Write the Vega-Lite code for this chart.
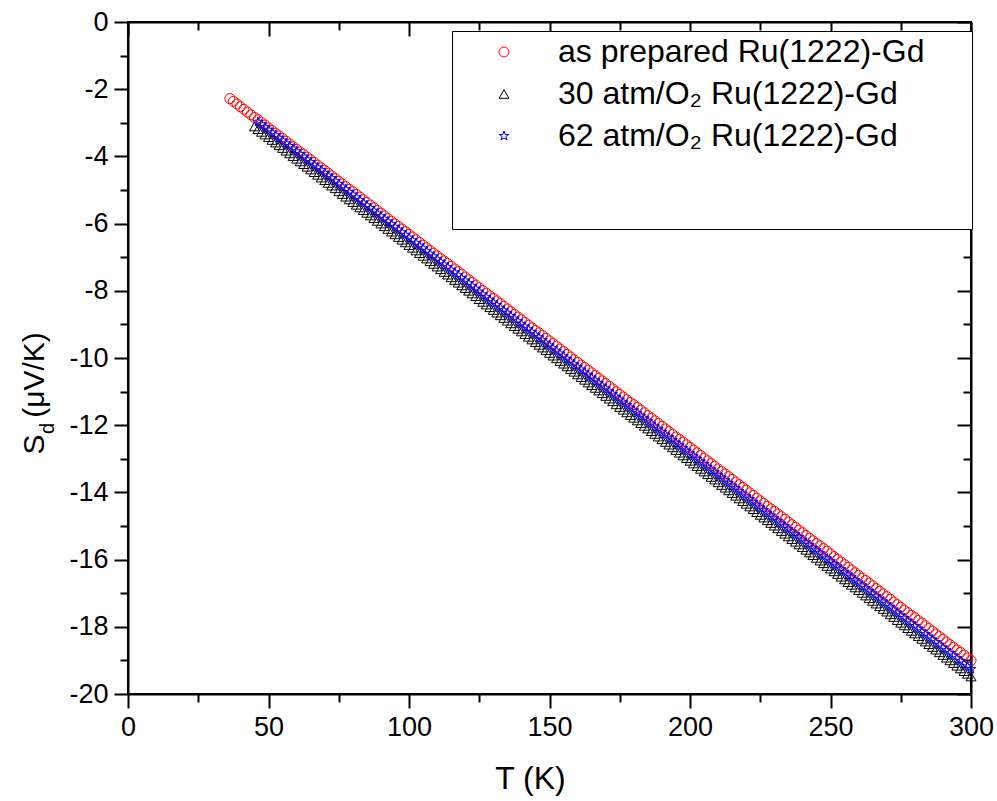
{
"$schema": "https://vega.github.io/schema/vega-lite/v6.json",
"autosize": {"type": "none"},
"padding": {"left": 128, "top": 22, "right": 26, "bottom": 107},
"width": 843,
"height": 672,
"background": "white",
"config": {"view": {"stroke": "black", "strokeWidth": 2}, "font": "Liberation Sans"},
"data": {"values": [
{"g":"a","T":36.25,"S":-2.28},{"g":"a","T":37.5,"S":-2.36},{"g":"a","T":38.75,"S":-2.44},{"g":"a","T":40,"S":-2.52},{"g":"a","T":41.25,"S":-2.60},{"g":"a","T":42.5,"S":-2.68},{"g":"a","T":43.75,"S":-2.76},{"g":"a","T":45,"S":-2.84},{"g":"a","T":46.25,"S":-2.91},{"g":"a","T":47.5,"S":-2.99},{"g":"a","T":48.75,"S":-3.07},{"g":"a","T":50,"S":-3.15},{"g":"a","T":51.25,"S":-3.23},{"g":"a","T":52.5,"S":-3.31},{"g":"a","T":53.75,"S":-3.39},{"g":"a","T":55,"S":-3.47},{"g":"a","T":56.25,"S":-3.55},{"g":"a","T":57.5,"S":-3.63},{"g":"a","T":58.75,"S":-3.71},{"g":"a","T":60,"S":-3.79},{"g":"a","T":61.25,"S":-3.87},{"g":"a","T":62.5,"S":-3.94},{"g":"a","T":63.75,"S":-4.02},{"g":"a","T":65,"S":-4.10},{"g":"a","T":66.25,"S":-4.18},{"g":"a","T":67.5,"S":-4.26},{"g":"a","T":68.75,"S":-4.34},{"g":"a","T":70,"S":-4.42},{"g":"a","T":71.25,"S":-4.50},{"g":"a","T":72.5,"S":-4.58},{"g":"a","T":73.75,"S":-4.66},{"g":"a","T":75,"S":-4.74},{"g":"a","T":76.25,"S":-4.82},{"g":"a","T":77.5,"S":-4.90},{"g":"a","T":78.75,"S":-4.98},{"g":"a","T":80,"S":-5.05},{"g":"a","T":81.25,"S":-5.13},{"g":"a","T":82.5,"S":-5.21},{"g":"a","T":83.75,"S":-5.29},{"g":"a","T":85,"S":-5.37},{"g":"a","T":86.25,"S":-5.45},{"g":"a","T":87.5,"S":-5.53},{"g":"a","T":88.75,"S":-5.61},{"g":"a","T":90,"S":-5.69},{"g":"a","T":91.25,"S":-5.77},{"g":"a","T":92.5,"S":-5.85},{"g":"a","T":93.75,"S":-5.93},{"g":"a","T":95,"S":-6.01},{"g":"a","T":96.25,"S":-6.08},{"g":"a","T":97.5,"S":-6.16},{"g":"a","T":98.75,"S":-6.24},{"g":"a","T":100,"S":-6.32},{"g":"a","T":101.25,"S":-6.40},{"g":"a","T":102.5,"S":-6.48},{"g":"a","T":103.75,"S":-6.56},{"g":"a","T":105,"S":-6.64},{"g":"a","T":106.25,"S":-6.72},{"g":"a","T":107.5,"S":-6.80},{"g":"a","T":108.75,"S":-6.88},{"g":"a","T":110,"S":-6.96},{"g":"a","T":111.25,"S":-7.04},{"g":"a","T":112.5,"S":-7.11},{"g":"a","T":113.75,"S":-7.19},{"g":"a","T":115,"S":-7.27},{"g":"a","T":116.25,"S":-7.35},{"g":"a","T":117.5,"S":-7.43},{"g":"a","T":118.75,"S":-7.51},{"g":"a","T":120,"S":-7.59},{"g":"a","T":121.25,"S":-7.67},{"g":"a","T":122.5,"S":-7.75},{"g":"a","T":123.75,"S":-7.83},{"g":"a","T":125,"S":-7.91},{"g":"a","T":126.25,"S":-7.99},{"g":"a","T":127.5,"S":-8.07},{"g":"a","T":128.75,"S":-8.15},{"g":"a","T":130,"S":-8.22},{"g":"a","T":131.25,"S":-8.30},{"g":"a","T":132.5,"S":-8.38},{"g":"a","T":133.75,"S":-8.46},{"g":"a","T":135,"S":-8.54},{"g":"a","T":136.25,"S":-8.62},{"g":"a","T":137.5,"S":-8.70},{"g":"a","T":138.75,"S":-8.78},{"g":"a","T":140,"S":-8.86},{"g":"a","T":141.25,"S":-8.94},{"g":"a","T":142.5,"S":-9.02},{"g":"a","T":143.75,"S":-9.10},{"g":"a","T":145,"S":-9.18},{"g":"a","T":146.25,"S":-9.25},{"g":"a","T":147.5,"S":-9.33},{"g":"a","T":148.75,"S":-9.41},{"g":"a","T":150,"S":-9.49},{"g":"a","T":151.25,"S":-9.57},{"g":"a","T":152.5,"S":-9.65},{"g":"a","T":153.75,"S":-9.73},{"g":"a","T":155,"S":-9.81},{"g":"a","T":156.25,"S":-9.89},{"g":"a","T":157.5,"S":-9.97},{"g":"a","T":158.75,"S":-10.05},{"g":"a","T":160,"S":-10.13},{"g":"a","T":161.25,"S":-10.21},{"g":"a","T":162.5,"S":-10.28},{"g":"a","T":163.75,"S":-10.36},{"g":"a","T":165,"S":-10.44},{"g":"a","T":166.25,"S":-10.52},{"g":"a","T":167.5,"S":-10.60},{"g":"a","T":168.75,"S":-10.68},{"g":"a","T":170,"S":-10.76},{"g":"a","T":171.25,"S":-10.84},{"g":"a","T":172.5,"S":-10.92},{"g":"a","T":173.75,"S":-11.00},{"g":"a","T":175,"S":-11.08},{"g":"a","T":176.25,"S":-11.16},{"g":"a","T":177.5,"S":-11.24},{"g":"a","T":178.75,"S":-11.32},{"g":"a","T":180,"S":-11.39},{"g":"a","T":181.25,"S":-11.47},{"g":"a","T":182.5,"S":-11.55},{"g":"a","T":183.75,"S":-11.63},{"g":"a","T":185,"S":-11.71},{"g":"a","T":186.25,"S":-11.79},{"g":"a","T":187.5,"S":-11.87},{"g":"a","T":188.75,"S":-11.95},{"g":"a","T":190,"S":-12.03},{"g":"a","T":191.25,"S":-12.11},{"g":"a","T":192.5,"S":-12.19},{"g":"a","T":193.75,"S":-12.27},{"g":"a","T":195,"S":-12.35},{"g":"a","T":196.25,"S":-12.42},{"g":"a","T":197.5,"S":-12.50},{"g":"a","T":198.75,"S":-12.58},{"g":"a","T":200,"S":-12.66},{"g":"a","T":201.25,"S":-12.74},{"g":"a","T":202.5,"S":-12.82},{"g":"a","T":203.75,"S":-12.90},{"g":"a","T":205,"S":-12.98},{"g":"a","T":206.25,"S":-13.06},{"g":"a","T":207.5,"S":-13.14},{"g":"a","T":208.75,"S":-13.22},{"g":"a","T":210,"S":-13.30},{"g":"a","T":211.25,"S":-13.38},{"g":"a","T":212.5,"S":-13.45},{"g":"a","T":213.75,"S":-13.53},{"g":"a","T":215,"S":-13.61},{"g":"a","T":216.25,"S":-13.69},{"g":"a","T":217.5,"S":-13.77},{"g":"a","T":218.75,"S":-13.85},{"g":"a","T":220,"S":-13.93},{"g":"a","T":221.25,"S":-14.01},{"g":"a","T":222.5,"S":-14.09},{"g":"a","T":223.75,"S":-14.17},{"g":"a","T":225,"S":-14.25},{"g":"a","T":226.25,"S":-14.33},{"g":"a","T":227.5,"S":-14.41},{"g":"a","T":228.75,"S":-14.49},{"g":"a","T":230,"S":-14.56},{"g":"a","T":231.25,"S":-14.64},{"g":"a","T":232.5,"S":-14.72},{"g":"a","T":233.75,"S":-14.80},{"g":"a","T":235,"S":-14.88},{"g":"a","T":236.25,"S":-14.96},{"g":"a","T":237.5,"S":-15.04},{"g":"a","T":238.75,"S":-15.12},{"g":"a","T":240,"S":-15.20},{"g":"a","T":241.25,"S":-15.28},{"g":"a","T":242.5,"S":-15.36},{"g":"a","T":243.75,"S":-15.44},{"g":"a","T":245,"S":-15.52},{"g":"a","T":246.25,"S":-15.59},{"g":"a","T":247.5,"S":-15.67},{"g":"a","T":248.75,"S":-15.75},{"g":"a","T":250,"S":-15.83},{"g":"a","T":251.25,"S":-15.91},{"g":"a","T":252.5,"S":-15.99},{"g":"a","T":253.75,"S":-16.07},{"g":"a","T":255,"S":-16.15},{"g":"a","T":256.25,"S":-16.23},{"g":"a","T":257.5,"S":-16.31},{"g":"a","T":258.75,"S":-16.39},{"g":"a","T":260,"S":-16.47},{"g":"a","T":261.25,"S":-16.55},{"g":"a","T":262.5,"S":-16.62},{"g":"a","T":263.75,"S":-16.70},{"g":"a","T":265,"S":-16.78},{"g":"a","T":266.25,"S":-16.86},{"g":"a","T":267.5,"S":-16.94},{"g":"a","T":268.75,"S":-17.02},{"g":"a","T":270,"S":-17.10},{"g":"a","T":271.25,"S":-17.18},{"g":"a","T":272.5,"S":-17.26},{"g":"a","T":273.75,"S":-17.34},{"g":"a","T":275,"S":-17.42},{"g":"a","T":276.25,"S":-17.50},{"g":"a","T":277.5,"S":-17.58},{"g":"a","T":278.75,"S":-17.66},{"g":"a","T":280,"S":-17.73},{"g":"a","T":281.25,"S":-17.81},{"g":"a","T":282.5,"S":-17.89},{"g":"a","T":283.75,"S":-17.97},{"g":"a","T":285,"S":-18.05},{"g":"a","T":286.25,"S":-18.13},{"g":"a","T":287.5,"S":-18.21},{"g":"a","T":288.75,"S":-18.29},{"g":"a","T":290,"S":-18.37},{"g":"a","T":291.25,"S":-18.45},{"g":"a","T":292.5,"S":-18.53},{"g":"a","T":293.75,"S":-18.61},{"g":"a","T":295,"S":-18.69},{"g":"a","T":296.25,"S":-18.76},{"g":"a","T":297.5,"S":-18.84},{"g":"a","T":298.75,"S":-18.92},{"g":"a","T":300,"S":-19.00},
{"g":"b","T":45,"S":-3.11},{"g":"b","T":46.25,"S":-3.19},{"g":"b","T":47.5,"S":-3.27},{"g":"b","T":48.75,"S":-3.35},{"g":"b","T":50,"S":-3.43},{"g":"b","T":51.25,"S":-3.51},{"g":"b","T":52.5,"S":-3.59},{"g":"b","T":53.75,"S":-3.67},{"g":"b","T":55,"S":-3.75},{"g":"b","T":56.25,"S":-3.83},{"g":"b","T":57.5,"S":-3.91},{"g":"b","T":58.75,"S":-3.99},{"g":"b","T":60,"S":-4.07},{"g":"b","T":61.25,"S":-4.15},{"g":"b","T":62.5,"S":-4.23},{"g":"b","T":63.75,"S":-4.31},{"g":"b","T":65,"S":-4.39},{"g":"b","T":66.25,"S":-4.47},{"g":"b","T":67.5,"S":-4.55},{"g":"b","T":68.75,"S":-4.63},{"g":"b","T":70,"S":-4.71},{"g":"b","T":71.25,"S":-4.79},{"g":"b","T":72.5,"S":-4.87},{"g":"b","T":73.75,"S":-4.95},{"g":"b","T":75,"S":-5.04},{"g":"b","T":76.25,"S":-5.12},{"g":"b","T":77.5,"S":-5.20},{"g":"b","T":78.75,"S":-5.28},{"g":"b","T":80,"S":-5.36},{"g":"b","T":81.25,"S":-5.44},{"g":"b","T":82.5,"S":-5.52},{"g":"b","T":83.75,"S":-5.60},{"g":"b","T":85,"S":-5.68},{"g":"b","T":86.25,"S":-5.76},{"g":"b","T":87.5,"S":-5.84},{"g":"b","T":88.75,"S":-5.92},{"g":"b","T":90,"S":-6.00},{"g":"b","T":91.25,"S":-6.08},{"g":"b","T":92.5,"S":-6.16},{"g":"b","T":93.75,"S":-6.24},{"g":"b","T":95,"S":-6.32},{"g":"b","T":96.25,"S":-6.40},{"g":"b","T":97.5,"S":-6.48},{"g":"b","T":98.75,"S":-6.56},{"g":"b","T":100,"S":-6.64},{"g":"b","T":101.25,"S":-6.72},{"g":"b","T":102.5,"S":-6.80},{"g":"b","T":103.75,"S":-6.88},{"g":"b","T":105,"S":-6.96},{"g":"b","T":106.25,"S":-7.04},{"g":"b","T":107.5,"S":-7.12},{"g":"b","T":108.75,"S":-7.20},{"g":"b","T":110,"S":-7.28},{"g":"b","T":111.25,"S":-7.36},{"g":"b","T":112.5,"S":-7.44},{"g":"b","T":113.75,"S":-7.52},{"g":"b","T":115,"S":-7.60},{"g":"b","T":116.25,"S":-7.68},{"g":"b","T":117.5,"S":-7.76},{"g":"b","T":118.75,"S":-7.84},{"g":"b","T":120,"S":-7.92},{"g":"b","T":121.25,"S":-8.00},{"g":"b","T":122.5,"S":-8.08},{"g":"b","T":123.75,"S":-8.16},{"g":"b","T":125,"S":-8.25},{"g":"b","T":126.25,"S":-8.33},{"g":"b","T":127.5,"S":-8.41},{"g":"b","T":128.75,"S":-8.49},{"g":"b","T":130,"S":-8.57},{"g":"b","T":131.25,"S":-8.65},{"g":"b","T":132.5,"S":-8.73},{"g":"b","T":133.75,"S":-8.81},{"g":"b","T":135,"S":-8.89},{"g":"b","T":136.25,"S":-8.97},{"g":"b","T":137.5,"S":-9.05},{"g":"b","T":138.75,"S":-9.13},{"g":"b","T":140,"S":-9.21},{"g":"b","T":141.25,"S":-9.29},{"g":"b","T":142.5,"S":-9.37},{"g":"b","T":143.75,"S":-9.45},{"g":"b","T":145,"S":-9.53},{"g":"b","T":146.25,"S":-9.61},{"g":"b","T":147.5,"S":-9.69},{"g":"b","T":148.75,"S":-9.77},{"g":"b","T":150,"S":-9.85},{"g":"b","T":151.25,"S":-9.93},{"g":"b","T":152.5,"S":-10.01},{"g":"b","T":153.75,"S":-10.09},{"g":"b","T":155,"S":-10.17},{"g":"b","T":156.25,"S":-10.25},{"g":"b","T":157.5,"S":-10.33},{"g":"b","T":158.75,"S":-10.41},{"g":"b","T":160,"S":-10.49},{"g":"b","T":161.25,"S":-10.57},{"g":"b","T":162.5,"S":-10.65},{"g":"b","T":163.75,"S":-10.73},{"g":"b","T":165,"S":-10.81},{"g":"b","T":166.25,"S":-10.89},{"g":"b","T":167.5,"S":-10.97},{"g":"b","T":168.75,"S":-11.05},{"g":"b","T":170,"S":-11.13},{"g":"b","T":171.25,"S":-11.21},{"g":"b","T":172.5,"S":-11.29},{"g":"b","T":173.75,"S":-11.38},{"g":"b","T":175,"S":-11.46},{"g":"b","T":176.25,"S":-11.54},{"g":"b","T":177.5,"S":-11.62},{"g":"b","T":178.75,"S":-11.70},{"g":"b","T":180,"S":-11.78},{"g":"b","T":181.25,"S":-11.86},{"g":"b","T":182.5,"S":-11.94},{"g":"b","T":183.75,"S":-12.02},{"g":"b","T":185,"S":-12.10},{"g":"b","T":186.25,"S":-12.18},{"g":"b","T":187.5,"S":-12.26},{"g":"b","T":188.75,"S":-12.34},{"g":"b","T":190,"S":-12.42},{"g":"b","T":191.25,"S":-12.50},{"g":"b","T":192.5,"S":-12.58},{"g":"b","T":193.75,"S":-12.66},{"g":"b","T":195,"S":-12.74},{"g":"b","T":196.25,"S":-12.82},{"g":"b","T":197.5,"S":-12.90},{"g":"b","T":198.75,"S":-12.98},{"g":"b","T":200,"S":-13.06},{"g":"b","T":201.25,"S":-13.14},{"g":"b","T":202.5,"S":-13.22},{"g":"b","T":203.75,"S":-13.30},{"g":"b","T":205,"S":-13.38},{"g":"b","T":206.25,"S":-13.46},{"g":"b","T":207.5,"S":-13.54},{"g":"b","T":208.75,"S":-13.62},{"g":"b","T":210,"S":-13.70},{"g":"b","T":211.25,"S":-13.78},{"g":"b","T":212.5,"S":-13.86},{"g":"b","T":213.75,"S":-13.94},{"g":"b","T":215,"S":-14.02},{"g":"b","T":216.25,"S":-14.10},{"g":"b","T":217.5,"S":-14.18},{"g":"b","T":218.75,"S":-14.26},{"g":"b","T":220,"S":-14.34},{"g":"b","T":221.25,"S":-14.42},{"g":"b","T":222.5,"S":-14.50},{"g":"b","T":223.75,"S":-14.59},{"g":"b","T":225,"S":-14.67},{"g":"b","T":226.25,"S":-14.75},{"g":"b","T":227.5,"S":-14.83},{"g":"b","T":228.75,"S":-14.91},{"g":"b","T":230,"S":-14.99},{"g":"b","T":231.25,"S":-15.07},{"g":"b","T":232.5,"S":-15.15},{"g":"b","T":233.75,"S":-15.23},{"g":"b","T":235,"S":-15.31},{"g":"b","T":236.25,"S":-15.39},{"g":"b","T":237.5,"S":-15.47},{"g":"b","T":238.75,"S":-15.55},{"g":"b","T":240,"S":-15.63},{"g":"b","T":241.25,"S":-15.71},{"g":"b","T":242.5,"S":-15.79},{"g":"b","T":243.75,"S":-15.87},{"g":"b","T":245,"S":-15.95},{"g":"b","T":246.25,"S":-16.03},{"g":"b","T":247.5,"S":-16.11},{"g":"b","T":248.75,"S":-16.19},{"g":"b","T":250,"S":-16.27},{"g":"b","T":251.25,"S":-16.35},{"g":"b","T":252.5,"S":-16.43},{"g":"b","T":253.75,"S":-16.51},{"g":"b","T":255,"S":-16.59},{"g":"b","T":256.25,"S":-16.67},{"g":"b","T":257.5,"S":-16.75},{"g":"b","T":258.75,"S":-16.83},{"g":"b","T":260,"S":-16.91},{"g":"b","T":261.25,"S":-16.99},{"g":"b","T":262.5,"S":-17.07},{"g":"b","T":263.75,"S":-17.15},{"g":"b","T":265,"S":-17.23},{"g":"b","T":266.25,"S":-17.31},{"g":"b","T":267.5,"S":-17.39},{"g":"b","T":268.75,"S":-17.47},{"g":"b","T":270,"S":-17.55},{"g":"b","T":271.25,"S":-17.63},{"g":"b","T":272.5,"S":-17.71},{"g":"b","T":273.75,"S":-17.80},{"g":"b","T":275,"S":-17.88},{"g":"b","T":276.25,"S":-17.96},{"g":"b","T":277.5,"S":-18.04},{"g":"b","T":278.75,"S":-18.12},{"g":"b","T":280,"S":-18.20},{"g":"b","T":281.25,"S":-18.28},{"g":"b","T":282.5,"S":-18.36},{"g":"b","T":283.75,"S":-18.44},{"g":"b","T":285,"S":-18.52},{"g":"b","T":286.25,"S":-18.60},{"g":"b","T":287.5,"S":-18.68},{"g":"b","T":288.75,"S":-18.76},{"g":"b","T":290,"S":-18.84},{"g":"b","T":291.25,"S":-18.92},{"g":"b","T":292.5,"S":-19.00},{"g":"b","T":293.75,"S":-19.08},{"g":"b","T":295,"S":-19.16},{"g":"b","T":296.25,"S":-19.24},{"g":"b","T":297.5,"S":-19.32},{"g":"b","T":298.75,"S":-19.40},{"g":"b","T":300,"S":-19.48},
{"g":"c","T":46.25,"S":-2.97},{"g":"c","T":47.5,"S":-3.05},{"g":"c","T":48.75,"S":-3.13},{"g":"c","T":50,"S":-3.21},{"g":"c","T":51.25,"S":-3.29},{"g":"c","T":52.5,"S":-3.37},{"g":"c","T":53.75,"S":-3.45},{"g":"c","T":55,"S":-3.53},{"g":"c","T":56.25,"S":-3.61},{"g":"c","T":57.5,"S":-3.69},{"g":"c","T":58.75,"S":-3.77},{"g":"c","T":60,"S":-3.85},{"g":"c","T":61.25,"S":-3.93},{"g":"c","T":62.5,"S":-4.01},{"g":"c","T":63.75,"S":-4.09},{"g":"c","T":65,"S":-4.17},{"g":"c","T":66.25,"S":-4.25},{"g":"c","T":67.5,"S":-4.33},{"g":"c","T":68.75,"S":-4.41},{"g":"c","T":70,"S":-4.49},{"g":"c","T":71.25,"S":-4.57},{"g":"c","T":72.5,"S":-4.65},{"g":"c","T":73.75,"S":-4.73},{"g":"c","T":75,"S":-4.82},{"g":"c","T":76.25,"S":-4.90},{"g":"c","T":77.5,"S":-4.98},{"g":"c","T":78.75,"S":-5.06},{"g":"c","T":80,"S":-5.14},{"g":"c","T":81.25,"S":-5.22},{"g":"c","T":82.5,"S":-5.30},{"g":"c","T":83.75,"S":-5.38},{"g":"c","T":85,"S":-5.46},{"g":"c","T":86.25,"S":-5.54},{"g":"c","T":87.5,"S":-5.62},{"g":"c","T":88.75,"S":-5.70},{"g":"c","T":90,"S":-5.78},{"g":"c","T":91.25,"S":-5.86},{"g":"c","T":92.5,"S":-5.94},{"g":"c","T":93.75,"S":-6.02},{"g":"c","T":95,"S":-6.10},{"g":"c","T":96.25,"S":-6.18},{"g":"c","T":97.5,"S":-6.26},{"g":"c","T":98.75,"S":-6.34},{"g":"c","T":100,"S":-6.42},{"g":"c","T":101.25,"S":-6.50},{"g":"c","T":102.5,"S":-6.58},{"g":"c","T":103.75,"S":-6.66},{"g":"c","T":105,"S":-6.74},{"g":"c","T":106.25,"S":-6.82},{"g":"c","T":107.5,"S":-6.90},{"g":"c","T":108.75,"S":-6.98},{"g":"c","T":110,"S":-7.06},{"g":"c","T":111.25,"S":-7.14},{"g":"c","T":112.5,"S":-7.22},{"g":"c","T":113.75,"S":-7.30},{"g":"c","T":115,"S":-7.38},{"g":"c","T":116.25,"S":-7.46},{"g":"c","T":117.5,"S":-7.54},{"g":"c","T":118.75,"S":-7.62},{"g":"c","T":120,"S":-7.70},{"g":"c","T":121.25,"S":-7.78},{"g":"c","T":122.5,"S":-7.86},{"g":"c","T":123.75,"S":-7.94},{"g":"c","T":125,"S":-8.03},{"g":"c","T":126.25,"S":-8.11},{"g":"c","T":127.5,"S":-8.19},{"g":"c","T":128.75,"S":-8.27},{"g":"c","T":130,"S":-8.35},{"g":"c","T":131.25,"S":-8.43},{"g":"c","T":132.5,"S":-8.51},{"g":"c","T":133.75,"S":-8.59},{"g":"c","T":135,"S":-8.67},{"g":"c","T":136.25,"S":-8.75},{"g":"c","T":137.5,"S":-8.83},{"g":"c","T":138.75,"S":-8.91},{"g":"c","T":140,"S":-8.99},{"g":"c","T":141.25,"S":-9.07},{"g":"c","T":142.5,"S":-9.15},{"g":"c","T":143.75,"S":-9.23},{"g":"c","T":145,"S":-9.31},{"g":"c","T":146.25,"S":-9.39},{"g":"c","T":147.5,"S":-9.47},{"g":"c","T":148.75,"S":-9.55},{"g":"c","T":150,"S":-9.63},{"g":"c","T":151.25,"S":-9.71},{"g":"c","T":152.5,"S":-9.79},{"g":"c","T":153.75,"S":-9.87},{"g":"c","T":155,"S":-9.95},{"g":"c","T":156.25,"S":-10.03},{"g":"c","T":157.5,"S":-10.11},{"g":"c","T":158.75,"S":-10.19},{"g":"c","T":160,"S":-10.27},{"g":"c","T":161.25,"S":-10.35},{"g":"c","T":162.5,"S":-10.43},{"g":"c","T":163.75,"S":-10.51},{"g":"c","T":165,"S":-10.59},{"g":"c","T":166.25,"S":-10.67},{"g":"c","T":167.5,"S":-10.75},{"g":"c","T":168.75,"S":-10.83},{"g":"c","T":170,"S":-10.91},{"g":"c","T":171.25,"S":-10.99},{"g":"c","T":172.5,"S":-11.07},{"g":"c","T":173.75,"S":-11.16},{"g":"c","T":175,"S":-11.24},{"g":"c","T":176.25,"S":-11.32},{"g":"c","T":177.5,"S":-11.40},{"g":"c","T":178.75,"S":-11.48},{"g":"c","T":180,"S":-11.56},{"g":"c","T":181.25,"S":-11.64},{"g":"c","T":182.5,"S":-11.72},{"g":"c","T":183.75,"S":-11.80},{"g":"c","T":185,"S":-11.88},{"g":"c","T":186.25,"S":-11.96},{"g":"c","T":187.5,"S":-12.04},{"g":"c","T":188.75,"S":-12.12},{"g":"c","T":190,"S":-12.20},{"g":"c","T":191.25,"S":-12.28},{"g":"c","T":192.5,"S":-12.36},{"g":"c","T":193.75,"S":-12.44},{"g":"c","T":195,"S":-12.52},{"g":"c","T":196.25,"S":-12.60},{"g":"c","T":197.5,"S":-12.68},{"g":"c","T":198.75,"S":-12.76},{"g":"c","T":200,"S":-12.84},{"g":"c","T":201.25,"S":-12.92},{"g":"c","T":202.5,"S":-13.00},{"g":"c","T":203.75,"S":-13.08},{"g":"c","T":205,"S":-13.16},{"g":"c","T":206.25,"S":-13.24},{"g":"c","T":207.5,"S":-13.32},{"g":"c","T":208.75,"S":-13.40},{"g":"c","T":210,"S":-13.48},{"g":"c","T":211.25,"S":-13.56},{"g":"c","T":212.5,"S":-13.64},{"g":"c","T":213.75,"S":-13.72},{"g":"c","T":215,"S":-13.80},{"g":"c","T":216.25,"S":-13.88},{"g":"c","T":217.5,"S":-13.96},{"g":"c","T":218.75,"S":-14.04},{"g":"c","T":220,"S":-14.12},{"g":"c","T":221.25,"S":-14.20},{"g":"c","T":222.5,"S":-14.28},{"g":"c","T":223.75,"S":-14.37},{"g":"c","T":225,"S":-14.45},{"g":"c","T":226.25,"S":-14.53},{"g":"c","T":227.5,"S":-14.61},{"g":"c","T":228.75,"S":-14.69},{"g":"c","T":230,"S":-14.77},{"g":"c","T":231.25,"S":-14.85},{"g":"c","T":232.5,"S":-14.93},{"g":"c","T":233.75,"S":-15.01},{"g":"c","T":235,"S":-15.09},{"g":"c","T":236.25,"S":-15.17},{"g":"c","T":237.5,"S":-15.25},{"g":"c","T":238.75,"S":-15.33},{"g":"c","T":240,"S":-15.41},{"g":"c","T":241.25,"S":-15.49},{"g":"c","T":242.5,"S":-15.57},{"g":"c","T":243.75,"S":-15.65},{"g":"c","T":245,"S":-15.73},{"g":"c","T":246.25,"S":-15.81},{"g":"c","T":247.5,"S":-15.89},{"g":"c","T":248.75,"S":-15.97},{"g":"c","T":250,"S":-16.05},{"g":"c","T":251.25,"S":-16.13},{"g":"c","T":252.5,"S":-16.21},{"g":"c","T":253.75,"S":-16.29},{"g":"c","T":255,"S":-16.37},{"g":"c","T":256.25,"S":-16.45},{"g":"c","T":257.5,"S":-16.53},{"g":"c","T":258.75,"S":-16.61},{"g":"c","T":260,"S":-16.69},{"g":"c","T":261.25,"S":-16.77},{"g":"c","T":262.5,"S":-16.85},{"g":"c","T":263.75,"S":-16.93},{"g":"c","T":265,"S":-17.01},{"g":"c","T":266.25,"S":-17.09},{"g":"c","T":267.5,"S":-17.17},{"g":"c","T":268.75,"S":-17.25},{"g":"c","T":270,"S":-17.33},{"g":"c","T":271.25,"S":-17.41},{"g":"c","T":272.5,"S":-17.49},{"g":"c","T":273.75,"S":-17.58},{"g":"c","T":275,"S":-17.66},{"g":"c","T":276.25,"S":-17.74},{"g":"c","T":277.5,"S":-17.82},{"g":"c","T":278.75,"S":-17.90},{"g":"c","T":280,"S":-17.98},{"g":"c","T":281.25,"S":-18.06},{"g":"c","T":282.5,"S":-18.14},{"g":"c","T":283.75,"S":-18.22},{"g":"c","T":285,"S":-18.30},{"g":"c","T":286.25,"S":-18.38},{"g":"c","T":287.5,"S":-18.46},{"g":"c","T":288.75,"S":-18.54},{"g":"c","T":290,"S":-18.62},{"g":"c","T":291.25,"S":-18.70},{"g":"c","T":292.5,"S":-18.78},{"g":"c","T":293.75,"S":-18.86},{"g":"c","T":295,"S":-18.94},{"g":"c","T":296.25,"S":-19.02},{"g":"c","T":297.5,"S":-19.10},{"g":"c","T":298.75,"S":-19.18},{"g":"c","T":300,"S":-19.26}
]},
"layer": [
{
"mark": {"type": "point", "filled": false, "size": 100, "strokeWidth": 1, "opacity": 1},
"encoding": {
"x": {"field": "T", "type": "quantitative", "scale": {"domain": [0, 300], "nice": false, "zero": false},
 "axis": {"orient": "bottom", "values": [0,25,50,75,100,125,150,175,200,225,250,275,300], "labelExpr": "datum.value % 50 === 0 ? datum.label : ''", "labelFont": "Liberation Sans", "labelFontSize": 27, "labelColor": "black", "labelPadding": 6, "labelFlush": false, "labelOverlap": false, "tickSize": {"condition": {"test": "datum.value % 50 === 0", "value": 14}, "value": 8}, "tickColor": "black", "tickWidth": 2, "domainColor": "black", "domainWidth": 2, "grid": false, "title": "T (K)", "titleFont": "Liberation Sans", "titleFontSize": 32, "titleFontWeight": "normal", "titleColor": "black", "titleAlign": "center", "titleBaseline": "alphabetic", "titleX": 402, "titleY": 94}},
"y": {"field": "S", "type": "quantitative", "scale": {"domain": [-20, 0], "nice": false, "zero": false},
 "axis": {"orient": "left", "values": [-20,-19,-18,-17,-16,-15,-14,-13,-12,-11,-10,-9,-8,-7,-6,-5,-4,-3,-2,-1,0], "labelExpr": "datum.value % 2 === 0 ? '' + datum.value : ''", "labelFont": "Liberation Sans", "labelFontSize": 27, "labelColor": "black", "labelPadding": 6, "labelFlush": false, "labelOverlap": false, "tickSize": {"condition": {"test": "datum.value % 2 === 0", "value": 14}, "value": 8}, "tickColor": "black", "tickWidth": 2, "domainColor": "black", "domainWidth": 2, "grid": false, "title": "S\u00a0\u00a0(μV/K)", "titleFont": "Liberation Sans", "titleFontSize": 30, "titleFontWeight": "normal", "titleColor": "black", "titleAngle": -90, "titleAlign": "left", "titleBaseline": "alphabetic", "titleX": -85, "titleY": 432}},
"color": {"field": "g", "type": "nominal", "scale": {"domain": ["a","b","c"], "range": ["#ff0000","#000000","#0000ff"]},
 "legend": {"orient": "none", "legendX": 324, "legendY": 9, "title": "\u00a0", "titleOrient": "bottom", "titlePadding": 46, "titleFontSize": 26, "padding": 5, "strokeColor": "black", "fillColor": "white", "symbolOffset": 31, "labelOffset": 38, "labelFont": "Liberation Sans", "labelFontSize": 32, "labelColor": "black", "labelLimit": 1000, "rowPadding": 10, "symbolSize": 100, "symbolStrokeWidth": 1,
 "labelExpr": "datum.label === 'a' ? 'as prepared Ru(1222)-Gd\u00a0\u00a0\u00a0\u00a0\u2009\u200b' : datum.label === 'b' ? '30 atm/O\u2082 Ru(1222)-Gd' : '62 atm/O\u2082 Ru(1222)-Gd'",
 "encode": {"legend": {"update": {"strokeWidth": {"value": 2}}}}}},
"shape": {"field": "g", "type": "nominal", "scale": {"domain": ["a","b","c"], "range": ["circle","triangle-up","M0,-1L0.225,-0.309L0.951,-0.309L0.363,0.118L0.588,0.809L0,0.382L-0.588,0.809L-0.363,0.118L-0.951,-0.309L-0.225,-0.309Z"]},
 "legend": {"orient": "none", "legendX": 324, "legendY": 9, "title": "\u00a0", "titleOrient": "bottom", "titlePadding": 46, "titleFontSize": 26, "padding": 5, "strokeColor": "black", "fillColor": "white", "symbolOffset": 31, "labelOffset": 38, "labelFont": "Liberation Sans", "labelFontSize": 32, "labelColor": "black", "labelLimit": 1000, "rowPadding": 10, "symbolSize": 100, "symbolStrokeWidth": 1,
 "labelExpr": "datum.label === 'a' ? 'as prepared Ru(1222)-Gd\u00a0\u00a0\u00a0\u00a0\u2009\u200b' : datum.label === 'b' ? '30 atm/O\u2082 Ru(1222)-Gd' : '62 atm/O\u2082 Ru(1222)-Gd'",
 "encode": {"legend": {"update": {"strokeWidth": {"value": 2}}}}}}
}
},
{
"transform": [{"filter": "datum.T > 1000"}],
"mark": {"type": "point", "opacity": 0},
"encoding": {
"x": {"field": "T", "type": "quantitative", "axis": {"orient": "top", "values": [0,25,50,75,100,125,150,175,200,225,250,275,300], "labels": false, "tickSize": {"condition": {"test": "datum.value % 50 === 0", "value": -14}, "value": -8}, "tickColor": "black", "tickWidth": 2, "domainColor": "black", "domainWidth": 2, "grid": false, "title": null}},
"y": {"field": "S", "type": "quantitative", "axis": {"orient": "right", "values": [-20,-19,-18,-17,-16,-15,-14,-13,-12,-11,-10,-9,-8,-7,-6,-5,-4,-3,-2,-1,0], "labels": false, "tickSize": {"condition": {"test": "datum.value % 2 === 0", "value": -14}, "value": -8}, "tickColor": "black", "tickWidth": 2, "domainColor": "black", "domainWidth": 2, "grid": false, "title": null}}
}
},
{
"transform": [{"filter": "datum.T > 1000"}],
"mark": {"type": "point", "opacity": 0},
"encoding": {
"x": {"field": "T", "type": "quantitative", "axis": null},
"y": {"field": "S", "type": "quantitative", "axis": {"orient": "left", "labels": false, "ticks": false, "domain": false, "grid": false, "title": "d", "titleFont": "Liberation Sans", "titleFontSize": 20, "titleFontWeight": "normal", "titleColor": "black", "titleAngle": -90, "titleAlign": "center", "titleBaseline": "alphabetic", "titleX": -75, "titleY": 406}}
}
}
],
"resolve": {"axis": {"x": "independent", "y": "independent"}}
}
